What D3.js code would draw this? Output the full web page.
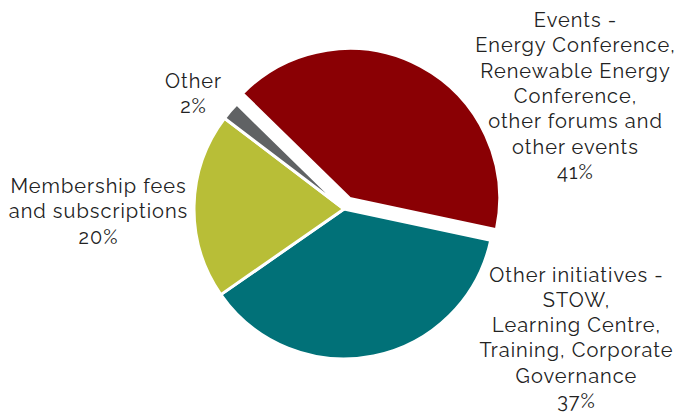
<!DOCTYPE html>
<html>
<head>
<meta charset="utf-8">
<script src="https://cdn.jsdelivr.net/npm/d3@7"></script>
<style>
  html, body { margin: 0; padding: 0; background: #ffffff; }
  svg text { font-family: Raleway, Lato, "Open Sans", sans-serif; fill: #222222; }
</style>
</head>
<body>
<svg id="chart" width="685" height="413"></svg>
<script>
// Revenue split by source
const categories = ["Events", "Other initiatives", "Membership fees", "Other"];
const shares = [41, 37, 20, 2];
const colors = ["#8a0004", "#017178", "#b8be37", "#606264"];
const labelLines = [
  ["Events -", "Energy Conference,", "Renewable Energy", "Conference,", "other forums and", "other events", "41%"],
  ["Other initiatives -", "STOW,", "Learning Centre,", "Training, Corporate", "Governance", "37%"],
  ["Membership fees", "and subscriptions", "20%"],
  ["Other", "2%"]
];
// label anchor (centre x, first baseline y) per slice
const labelAnchors = [[575, 27], [576, 281.5], [98, 193], [193, 88]];
const exploded = [12, 0, 0, 0];

const svg = d3.select("#chart");
const cx = 344, cy = 209, radius = 150;
const start = -45.6 * Math.PI / 180;

const pie = d3.pie().sort(null).value(d => d)
  .startAngle(start).endAngle(start + 2 * Math.PI);
const arc = d3.arc().innerRadius(0).outerRadius(radius);
const arcs = pie(shares);

const g = svg.append("g").attr("transform", `translate(${cx},${cy})`);
g.selectAll("path.slice")
  .data(arcs)
  .join("path")
  .attr("class", "slice")
  .attr("d", arc)
  .attr("fill", (d, i) => colors[i])
  .attr("stroke", "#ffffff")
  .attr("stroke-width", 3)
  .attr("stroke-linejoin", "round")
  .attr("transform", (d, i) => {
    const mid = (d.startAngle + d.endAngle) / 2;
    const off = exploded[i];
    return `translate(${off * Math.sin(mid)},${-off * Math.cos(mid)})`;
  });

const lineH = 25.3;
const spacing = 1.0;
labelLines.forEach((lines, i) => {
  const [x, y] = labelAnchors[i];
  const t = svg.append("text")
    .attr("text-anchor", "middle")
    .attr("font-size", 20)
    .attr("letter-spacing", spacing);
  lines.forEach((s, k) => {
    // trailing letter spacing is offset so lines stay centred
    t.append("tspan").attr("x", x + spacing / 2).attr("y", y + k * lineH).text(s);
  });
});
</script>
</body>
</html>
